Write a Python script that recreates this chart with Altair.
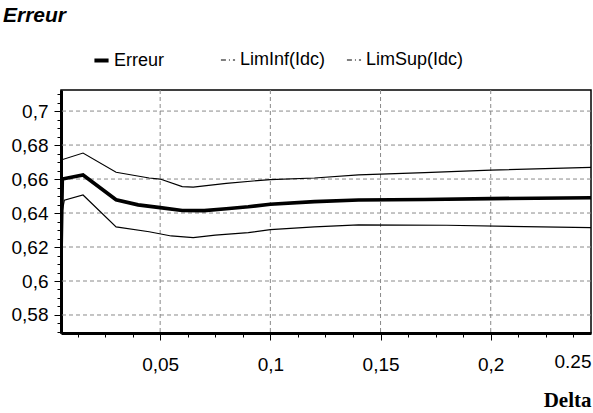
import altair as alt
import pandas as pd

# Series names as shown in the legend
series_names = ["Erreur", "LimInf(Idc)", "LimSup(Idc)"]

# Error curve and its confidence bounds, by Delta
erreur_delta = [0.005, 0.0056, 0.015, 0.03, 0.04, 0.05, 0.06, 0.07, 0.08, 0.09, 0.1, 0.12, 0.14, 0.17, 0.2, 0.2455]
erreur_value = [0.614, 0.660, 0.6624, 0.6478, 0.6448, 0.6432, 0.6415, 0.6414, 0.6425, 0.6437, 0.6452, 0.6467, 0.6477, 0.6480, 0.6485, 0.6490]

liminf_delta = [0.005, 0.0065, 0.015, 0.03, 0.045, 0.055, 0.065, 0.075, 0.09, 0.1, 0.12, 0.14, 0.18, 0.2455]
liminf_value = [0.637, 0.6476, 0.6506, 0.6318, 0.6290, 0.6265, 0.6255, 0.6270, 0.6285, 0.6302, 0.6318, 0.6330, 0.6328, 0.6314]

limsup_delta = [0.005, 0.015, 0.03, 0.045, 0.05, 0.06, 0.065, 0.08, 0.1, 0.12, 0.14, 0.17, 0.2, 0.2455]
limsup_value = [0.6712, 0.6753, 0.6640, 0.6606, 0.6600, 0.6555, 0.6553, 0.6575, 0.6597, 0.6606, 0.6624, 0.6638, 0.6652, 0.6669]

# Axis ticks: minor ticks on a fine grid, labels on the coarse one
x_ticks = [0.0125, 0.025, 0.0375, 0.05, 0.0625, 0.075, 0.0875, 0.1, 0.1125, 0.125,
           0.1375, 0.15, 0.1625, 0.175, 0.1875, 0.2, 0.2125, 0.225, 0.2375, 0.2455]
y_ticks = [0.57, 0.575, 0.58, 0.585, 0.59, 0.595, 0.6, 0.605, 0.61, 0.615, 0.62, 0.625,
           0.63, 0.635, 0.64, 0.645, 0.65, 0.655, 0.66, 0.665, 0.67, 0.675, 0.68, 0.685,
           0.69, 0.695, 0.7, 0.705, 0.71]
x_grid = [0.05, 0.1, 0.15, 0.2]
y_grid = [0.58, 0.6, 0.62, 0.64, 0.66, 0.68, 0.7]
x_domain = [0.005, 0.2455]
y_domain = [0.5694, 0.7124]

rows = []
for name, ds, vs in [(series_names[0], erreur_delta, erreur_value),
                     (series_names[1], liminf_delta, liminf_value),
                     (series_names[2], limsup_delta, limsup_value)]:
    for d, v in zip(ds, vs):
        rows.append({"delta": d, "valeur": v, "serie": name, "borne": name})
df = pd.DataFrame(rows)

FONT = "Liberation Sans"
GRID = "#8a8a8a"
x_major = "abs(datum.value * 20 - round(datum.value * 20)) < 0.0001"
y_major = "abs(datum.value * 50 - round(datum.value * 50)) < 0.0001"

x_axis = alt.Axis(
    values=x_ticks,
    title="Delta",
    titleFont="Liberation Serif",
    titleFontWeight="bold",
    titleFontSize=21,
    titleColor="black",
    titleAnchor="end",
    titlePadding=15,
    labelExpr=(
        "datum.value > 0.24 ? '0.25' : (" + x_major +
        " ? replace(format(datum.value, '.2~f'), '.', ',') : '')"
    ),
    labelFont=FONT,
    labelFontSize=19,
    labelColor="black",
    labelPadding=15,
    labelFlush=True,
    labelOverlap=False,
    domainColor="black",
    domainWidth=3,
    tickColor="black",
    tickWidth=1,
    tickSize={"condition": {"test": x_major, "value": 7}, "value": 4},
    tickOpacity={"condition": {"test": "datum.value > 0.24", "value": 0}, "value": 1},
    grid=False,
)

y_axis = alt.Axis(
    values=y_ticks,
    title=None,
    labelExpr="(" + y_major + " && datum.value > 0.575 && datum.value < 0.705) ? replace(format(datum.value, '.2~f'), '.', ',') : ''",
    labelFont=FONT,
    labelFontSize=19,
    labelColor="black",
    labelPadding=6,
    labelOverlap=False,
    domainColor="black",
    domainWidth=3,
    tickColor="black",
    tickWidth=1,
    tickSize={"condition": {"test": y_major, "value": 7}, "value": 4},
    grid=False,
)

x_scale = alt.Scale(domain=x_domain, nice=False, zero=False)
y_scale = alt.Scale(domain=y_domain, nice=False, zero=False)
x_enc = alt.X("delta:Q", scale=x_scale, axis=x_axis)
y_enc = alt.Y("valeur:Q", scale=y_scale, axis=y_axis)

# Dashed grid lines at the labelled ticks
vgrid = alt.Chart(pd.DataFrame({"delta": x_grid})).mark_rule(
    color=GRID, strokeDash=[4, 3], strokeWidth=1
).encode(x=x_enc)
hgrid = alt.Chart(pd.DataFrame({"valeur": y_grid})).mark_rule(
    color=GRID, strokeDash=[4, 3], strokeWidth=1
).encode(y=y_enc)

# Solid curves: thick for the error, thin for the bounds
curves = alt.Chart(df).mark_line(clip=True, color="black").encode(
    x=x_enc,
    y=y_enc,
    detail="serie:N",
    strokeWidth=alt.condition("datum.serie === 'Erreur'", alt.value(3.6), alt.value(1.2)),
)

# Legend keys: these layers sit outside the clipped plot and only feed the legends
hidden = "datum.valeur + 1"
key_erreur = alt.Chart(df).transform_filter("datum.serie === 'Erreur'").transform_calculate(
    cache=hidden
).mark_line(clip=True, strokeWidth=4).encode(
    x=x_enc,
    y=alt.Y("cache:Q", scale=y_scale, axis=y_axis),
    color=alt.Color(
        "serie:N",
        scale=alt.Scale(domain=series_names[:1], range=["black"]),
        legend=alt.Legend(
            title=None,
            orient="none",
            legendX=31,
            legendY=-39,
            symbolType="stroke",
            symbolSize=200,
            symbolStrokeWidth=4,
            labelFont=FONT,
            labelFontSize=18,
            labelColor="black",
            labelOffset=3,
        ),
    ),
)

key_bornes = alt.Chart(df).transform_filter("datum.serie !== 'Erreur'").transform_calculate(
    cache=hidden
).mark_line(clip=True, strokeWidth=1, color="black").encode(
    x=x_enc,
    y=alt.Y("cache:Q", scale=y_scale, axis=y_axis),
    strokeDash=alt.StrokeDash(
        "borne:N",
        scale=alt.Scale(domain=series_names[1:], range=[[5, 3, 1, 3], [5, 3, 1, 3]]),
        legend=alt.Legend(
            title=None,
            orient="none",
            legendX=158,
            legendY=-39,
            direction="horizontal",
            columns=2,
            columnPadding=18,
            symbolType="stroke",
            symbolSize=200,
            symbolStrokeWidth=1,
            symbolStrokeColor="black",
            labelFont=FONT,
            labelFontSize=18,
            labelColor="black",
            labelOffset=3,
        ),
    ),
)

chart = alt.layer(vgrid, hgrid, curves, key_erreur, key_bornes).properties(
    width=530,
    height=243,
    view=alt.ViewBackground(stroke="black", strokeWidth=1.5, fill="white"),
    title=alt.TitleParams(
        "Erreur",
        anchor="start",
        frame="group",
        font=FONT,
        fontSize=21,
        fontWeight="bold",
        fontStyle="italic",
        color="black",
        dx=-58,
        offset=25,
    ),
    autosize=alt.AutoSizeParams(type="none"),
    padding={"left": 61, "top": 90, "right": 2, "bottom": 80},
).configure(
    background="white",
)

chart.save("out.html", embed_options={"renderer": "svg", "actions": False})
